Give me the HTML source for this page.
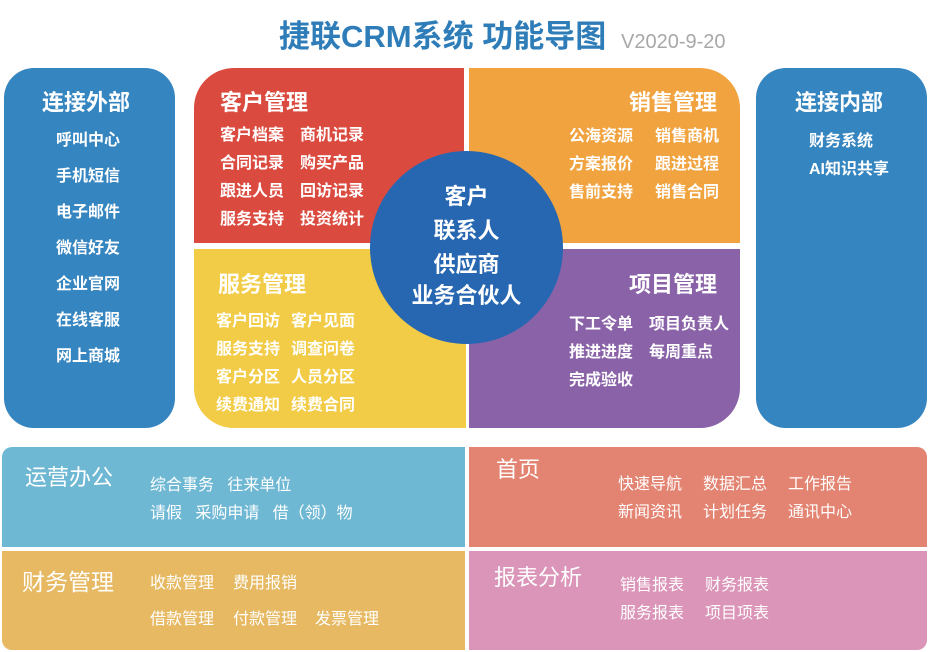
<!DOCTYPE html>
<html><head><meta charset="utf-8"><style>
*{margin:0;padding:0;box-sizing:border-box}
body{width:930px;height:652px;background:#fff;position:relative;overflow:hidden;font-family:"Liberation Sans","Noto Sans CJK SC",sans-serif;color:#fff}
.a{position:absolute}
.t{position:absolute;white-space:nowrap;line-height:1}
.h{font-size:22px;font-weight:bold}
.i{font-size:16px;font-weight:bold}
.s{font-size:16px}
</style></head><body>
<div class="t" style="left:279px;top:21px;font-size:31px;color:#2e7db8;font-weight:bold">捷联CRM系统 功能导图</div>
<div class="t" style="left:621px;top:32px;font-size:20px;color:#a8a8a8">V2020-9-20</div>

<div class="a" style="left:4px;top:68px;width:171px;height:360px;background:#3585c0;border-radius:30px"></div>
<div class="t h" style="left:42px;top:92px">连接外部</div>
<div class="t i" style="left:56px;top:133px">呼叫中心</div>
<div class="t i" style="left:56px;top:169px">手机短信</div>
<div class="t i" style="left:56px;top:205px">电子邮件</div>
<div class="t i" style="left:56px;top:241px">微信好友</div>
<div class="t i" style="left:56px;top:277px">企业官网</div>
<div class="t i" style="left:56px;top:313px">在线客服</div>
<div class="t i" style="left:56px;top:349px">网上商城</div>

<div class="a" style="left:756px;top:68px;width:171px;height:360px;background:#3585c0;border-radius:30px"></div>
<div class="t h" style="left:795px;top:92px">连接内部</div>
<div class="t i" style="left:809px;top:134px">财务系统</div>
<div class="t i" style="left:809px;top:162px">AI知识共享</div>

<div class="a" style="left:194px;top:68px;width:270px;height:175px;background:#db4a3f;border-top-left-radius:40px"></div>
<div class="a" style="left:469px;top:68px;width:271px;height:175px;background:#f0a33f;border-top-right-radius:40px"></div>
<div class="a" style="left:194px;top:249px;width:272px;height:179px;background:#f2cc46;border-bottom-left-radius:40px"></div>
<div class="a" style="left:469px;top:249px;width:271px;height:179px;background:#8a62a8;border-bottom-right-radius:40px"></div>

<div class="t h" style="left:220px;top:92px">客户管理</div>
<div class="t i" style="left:220px;top:128px">客户档案</div><div class="t i" style="left:300px;top:128px">商机记录</div>
<div class="t i" style="left:220px;top:156px">合同记录</div><div class="t i" style="left:300px;top:156px">购买产品</div>
<div class="t i" style="left:220px;top:184px">跟进人员</div><div class="t i" style="left:300px;top:184px">回访记录</div>
<div class="t i" style="left:220px;top:212px">服务支持</div><div class="t i" style="left:300px;top:212px">投资统计</div>

<div class="t h" style="left:629px;top:92px">销售管理</div>
<div class="t i" style="left:569px;top:129px">公海资源</div><div class="t i" style="left:655px;top:129px">销售商机</div>
<div class="t i" style="left:569px;top:157px">方案报价</div><div class="t i" style="left:655px;top:157px">跟进过程</div>
<div class="t i" style="left:569px;top:185px">售前支持</div><div class="t i" style="left:655px;top:185px">销售合同</div>

<div class="t h" style="left:218px;top:274px">服务管理</div>
<div class="t i" style="left:216px;top:314px">客户回访</div><div class="t i" style="left:291px;top:314px">客户见面</div>
<div class="t i" style="left:216px;top:342px">服务支持</div><div class="t i" style="left:291px;top:342px">调查问卷</div>
<div class="t i" style="left:216px;top:370px">客户分区</div><div class="t i" style="left:291px;top:370px">人员分区</div>
<div class="t i" style="left:216px;top:398px">续费通知</div><div class="t i" style="left:291px;top:398px">续费合同</div>

<div class="t h" style="left:629px;top:274px">项目管理</div>
<div class="t i" style="left:569px;top:317px">下工令单</div><div class="t i" style="left:649px;top:317px">项目负责人</div>
<div class="t i" style="left:569px;top:345px">推进进度</div><div class="t i" style="left:649px;top:345px">每周重点</div>
<div class="t i" style="left:569px;top:373px">完成验收</div>

<div class="a" style="left:370px;top:151px;width:193px;height:193px;border-radius:50%;background:#2767b1"></div>
<div class="t h" style="left:370px;width:193px;text-align:center;top:186px">客户</div>
<div class="t h" style="left:370px;width:193px;text-align:center;top:220px">联系人</div>
<div class="t h" style="left:370px;width:193px;text-align:center;top:254px">供应商</div>
<div class="t h" style="left:370px;width:193px;text-align:center;top:285px">业务合伙人</div>

<div class="a" style="left:2px;top:447px;width:463px;height:100px;background:#6fb8d4;border-top-left-radius:10px"></div>
<div class="a" style="left:469px;top:447px;width:458px;height:100px;background:#e38371;border-top-right-radius:10px"></div>
<div class="a" style="left:2px;top:551px;width:463px;height:99px;background:#e6b962;border-bottom-left-radius:10px"></div>
<div class="a" style="left:469px;top:551px;width:458px;height:99px;background:#db95b8;border-bottom-right-radius:10px"></div>

<div class="t" style="left:25px;top:467px;font-size:22px">运营办公</div>
<div class="t s" style="left:150px;top:478px">综合事务&nbsp;&nbsp;&nbsp;往来单位</div>
<div class="t s" style="left:150px;top:506px">请假&nbsp;&nbsp;&nbsp;采购申请&nbsp;&nbsp;&nbsp;借（领）物</div>

<div class="t" style="left:496px;top:459px;font-size:22px">首页</div>
<div class="t s" style="left:618px;top:477px">快速导航</div><div class="t s" style="left:703px;top:477px">数据汇总</div><div class="t s" style="left:788px;top:477px">工作报告</div>
<div class="t s" style="left:618px;top:505px">新闻资讯</div><div class="t s" style="left:703px;top:505px">计划任务</div><div class="t s" style="left:788px;top:505px">通讯中心</div>

<div class="t" style="left:22px;top:571px;font-size:23px">财务管理</div>
<div class="t s" style="left:150px;top:576px">收款管理</div><div class="t s" style="left:233px;top:576px">费用报销</div>
<div class="t s" style="left:150px;top:612px">借款管理</div><div class="t s" style="left:233px;top:612px">付款管理</div><div class="t s" style="left:315px;top:612px">发票管理</div>

<div class="t" style="left:494px;top:567px;font-size:22px">报表分析</div>
<div class="t s" style="left:620px;top:578px">销售报表</div><div class="t s" style="left:705px;top:578px">财务报表</div>
<div class="t s" style="left:620px;top:606px">服务报表</div><div class="t s" style="left:705px;top:606px">项目项表</div>
</body></html>
